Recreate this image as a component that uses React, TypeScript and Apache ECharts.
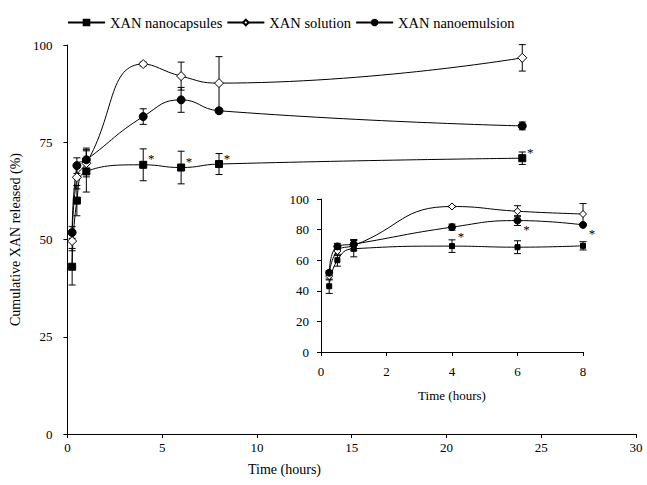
import React, { useEffect, useRef } from "react";
import * as echarts from "echarts";

const times = [0.25, 0.5, 1, 4, 6, 8, 24];
const capsules = [43, 60, 67.5, 69.2, 68.5, 69.4, 70.9];
const capsulesErr = [4.7, 3.9, 5.3, 4.1, 4.2, 2.7, 1.6];
const solution = [49.6, 66, 69.6, 95.1, 92, 90.2, 96.7];
const solutionErr = [2.5, 3, 3.5, 0.5, 3.6, 6.8, 3.4];
const emulsion = [51.8, 69, 70.5, 81.6, 85.9, 83.1, 79.2];
const emulsionErr = [1.5, 2, 3, 2, 3.2, 0.6, 1];

const mainXTicks = [0, 5, 10, 15, 20, 25, 30];
const mainYTicks = [0, 25, 50, 75, 100];
const insetXTicks = [0, 2, 4, 6, 8];
const insetYTicks = [0, 20, 40, 60, 80, 100];

const capsStarIdx = [3, 4, 5, 6];
const emulsionStarIdx = [3, 4, 5];
const insetMaxTime = 8;

const NAMES = ["XAN nanocapsules", "XAN solution", "XAN nanoemulsion"];
const FONT = "'Times New Roman', 'Liberation Serif', serif";

export default function App() {
  const ref = useRef<HTMLDivElement>(null);
  useEffect(() => {
    const chart = echarts.init(ref.current!, null, { renderer: "svg" });

    const pairs = (ys: number[], maxT = Infinity) =>
      times.map((t, i) => [t, ys[i]]).filter((p) => p[0] <= maxT);
    const errs = (ys: number[], es: number[], maxT = Infinity) =>
      times.map((t, i) => [t, ys[i], es[i]]).filter((p) => p[0] <= maxT);

    const errRender = (cap: number) => (params: any, api: any) => {
      const x = api.value(0);
      const y = api.value(1);
      const e = api.value(2);
      const hi = api.coord([x, y + e]);
      const lo = api.coord([x, y - e]);
      const st = { stroke: "#000", lineWidth: 1 };
      return {
        type: "group",
        children: [
          { type: "line", shape: { x1: hi[0], y1: hi[1], x2: lo[0], y2: lo[1] }, style: st },
          { type: "line", shape: { x1: hi[0] - cap, y1: hi[1], x2: hi[0] + cap, y2: hi[1] }, style: st },
          { type: "line", shape: { x1: lo[0] - cap, y1: lo[1], x2: lo[0] + cap, y2: lo[1] }, style: st },
        ],
      };
    };

    const axisCommon = {
      axisLine: { lineStyle: { color: "#000", width: 1 } },
      axisTick: { lineStyle: { color: "#000" }, length: 4 },
      splitLine: { show: false },
    };

    const lineSeries = (name: string, ys: number[], symbol: string, fill: string, size: number, xi: number, maxT = Infinity) => ({
      type: "line",
      name,
      xAxisIndex: xi,
      yAxisIndex: xi,
      data: pairs(ys, maxT),
      smooth: 0.5,
      symbol,
      symbolSize: size,
      showAllSymbol: true,
      lineStyle: { color: "#000", width: 1 },
      itemStyle: { color: fill, borderColor: "#000", borderWidth: 1 },
      z: 3,
    });

    const errSeries = (ys: number[], es: number[], xi: number, cap: number, maxT = Infinity) => ({
      type: "custom",
      name: "err",
      xAxisIndex: xi,
      yAxisIndex: xi,
      data: errs(ys, es, maxT),
      encode: { x: 0, y: 1 },
      itemStyle: { color: "#000" },
      renderItem: errRender(cap),
      z: 2,
    });

    const starSeries = (ys: number[], idx: number[], xi: number, dx: number, dy: number) => ({
      type: "custom",
      name: "star",
      xAxisIndex: xi,
      yAxisIndex: xi,
      data: idx.map((i) => [times[i], ys[i]]),
      encode: { x: 0, y: 1 },
      itemStyle: { color: "#000" },
      renderItem: (params: any, api: any) => {
        const p = api.coord([api.value(0), api.value(1)]);
        return {
          type: "text",
          x: p[0] + dx,
          y: p[1] + dy,
          style: {
            text: "*",
            fill: "#000",
            stroke: "none",
            lineWidth: 0,
            font: `13px ${FONT}`,
            textAlign: "center",
            textVerticalAlign: "middle",
          },
        };
      },
      z: 4,
    });

    const option: any = {
      animation: false,
      backgroundColor: "#fff",
      legend: {
        data: NAMES,
        top: 10,
        left: 62,
        itemWidth: 37,
        itemHeight: 7,
        itemGap: 4,
        textStyle: { fontFamily: FONT, fontSize: 14.5, color: "#000" },
        selectedMode: false,
      },
      grid: [
        { left: 62, right: 11, top: 45, bottom: 51 },
        { left: 321, right: 64, top: 199, bottom: 133 },
      ],
      xAxis: [
        {
          type: "value",
          gridIndex: 0,
          min: mainXTicks[0],
          max: mainXTicks[mainXTicks.length - 1],
          interval: 5,
          ...axisCommon,
          axisLabel: { color: "#000", fontFamily: FONT, fontSize: 13, margin: 7 },
        },
        {
          type: "value",
          gridIndex: 1,
          min: insetXTicks[0],
          max: insetXTicks[insetXTicks.length - 1],
          interval: 2,
          ...axisCommon,
          axisLabel: { color: "#000", fontFamily: FONT, fontSize: 13, margin: 13 },
          name: "Time (hours)",
          nameLocation: "middle",
          nameGap: 37,
          nameTextStyle: { color: "#000", fontFamily: FONT, fontSize: 13 },
        },
      ],
      yAxis: [
        {
          type: "value",
          gridIndex: 0,
          min: mainYTicks[0],
          max: mainYTicks[mainYTicks.length - 1],
          interval: 25,
          ...axisCommon,
          axisLabel: { color: "#000", fontFamily: FONT, fontSize: 13, margin: 15 },
          name: "Cumulative XAN released (%)",
          nameLocation: "middle",
          nameGap: 44,
          nameTextStyle: { color: "#000", fontFamily: FONT, fontSize: 14 },
        },
        {
          type: "value",
          gridIndex: 1,
          min: insetYTicks[0],
          max: insetYTicks[insetYTicks.length - 1],
          interval: 20,
          ...axisCommon,
          axisLabel: { color: "#000", fontFamily: FONT, fontSize: 13, margin: 12 },
        },
      ],
      graphic: [
        {
          type: "text",
          left: 248,
          top: 462,
          style: { text: "Time (hours)", font: `14px ${FONT}`, fill: "#000" },
        },
      ],
      series: [
        errSeries(capsules, capsulesErr, 0, 3.5),
        errSeries(solution, solutionErr, 0, 3.5),
        errSeries(emulsion, emulsionErr, 0, 3.5),
        lineSeries(NAMES[0], capsules, "rect", "#000", 7, 0),
        lineSeries(NAMES[1], solution, "diamond", "#fff", 9, 0),
        lineSeries(NAMES[2], emulsion, "circle", "#000", 8, 0),
        starSeries(capsules, capsStarIdx, 0, 8, -6),
        errSeries(capsules, capsulesErr, 1, 3.5, insetMaxTime),
        errSeries(solution, solutionErr, 1, 3.5, insetMaxTime),
        errSeries(emulsion, emulsionErr, 1, 3.5, insetMaxTime),
        lineSeries("in1", capsules, "rect", "#000", 5, 1, insetMaxTime),
        lineSeries("in2", solution, "diamond", "#fff", 7, 1, insetMaxTime),
        lineSeries("in3", emulsion, "circle", "#000", 7, 1, insetMaxTime),
        starSeries(emulsion, emulsionStarIdx, 1, 9, 9),
      ],
    };
    chart.setOption(option);
    return () => chart.dispose();
  }, []);
  return <div ref={ref} style={{ width: 647, height: 485, position: "absolute", left: 0, top: 0 }} />;
}
